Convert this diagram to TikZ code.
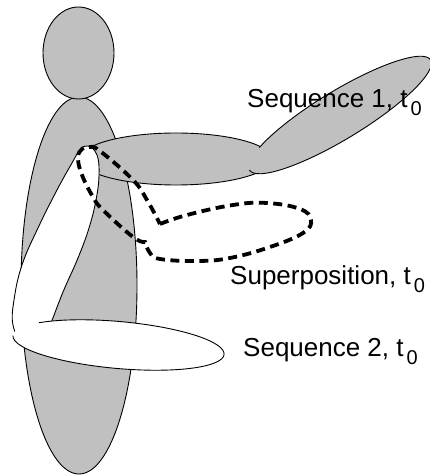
\documentclass[tikz,border=0pt]{standalone}
\usepackage{fontspec}
\setmainfont{Liberation Sans}
\definecolor{limb}{RGB}{192,192,192}
\begin{document}
\begin{tikzpicture}[x=1pt,y=1pt,
  outline/.style={draw=black, line width=0.9pt},
  graypart/.style={fill=limb},
  whitepart/.style={fill=white},
  loopline/.style={draw=black, line width=3.8pt, dash pattern=on 9pt off 5.5pt},
  seqtext/.style={font=\fontsize{26}{30}\selectfont, anchor=base west, inner sep=0pt}]
\useasboundingbox (0,0) rectangle (429,476);

% body and head
\filldraw[graypart, outline] (79,190.5) ellipse[x radius=58, y radius=188.5];
\filldraw[graypart, outline] (78.5,423) ellipse[x radius=35.5, y radius=46];

% upper arm of the first sequence
\filldraw[graypart, outline] (176,317) ellipse[x radius=96, y radius=26];

% forearm of the first sequence
\begin{scope}[shift={(340,361)}, rotate=31.3]
  \fill[limb] (0,0) ellipse[x radius=106, y radius=24];
  \draw[outline] (-106,0) arc[start angle=180, end angle=504, x radius=106, y radius=24];
\end{scope}

% upper arm of the second sequence
\filldraw[whitepart, outline] plot[smooth cycle, tension=0.7] coordinates {
  (88,330) (97,321) (99,301) (96,276) (89,248) (78,218) (63,184) (48,146)
  (40,134) (22,136) (13,151) (14,176) (22,211) (38,248) (57,286) (72,313) (80,326)};

% forearm of the second sequence
\begin{scope}[shift={(118.5,131)}, rotate=-5.1]
  \fill[white] (0,0) ellipse[x radius=106, y radius=23.5];
  \draw[outline] (-81.2,15.1) arc[start angle=140, end angle=-180, x radius=106, y radius=23.5];
\end{scope}

% superposition loop
\coordinate (elbow) at (160,252);
\coordinate (wrist) at (145,234);
\draw[loopline] plot[smooth, tension=0.7] coordinates {
  (elbow) (187,261) (233,271) (267,273) (300,267) (311,256) (303,243) (270,229)
  (230,218) (197,215) (160,217) (150,223) (wrist)}
  -- plot[smooth, tension=0.7] coordinates {
  (wrist) (133,239) (103,266) (93,279) (82,301) (78,318) (82,327) (90,329)
  (100,325) (133,296) (147,276) (elbow)} -- cycle;

% labels
\node[seqtext] (seq1) at (247,368) {Sequence 1, t\kern3pt\raisebox{-8pt}{\fontsize{20}{20}\selectfont 0}};
\node[seqtext] (sup) at (230,191) {Superposition, t\kern3pt\raisebox{-8pt}{\fontsize{20}{20}\selectfont 0}};
\node[seqtext] (seq2) at (243,119) {Sequence 2, t\kern3pt\raisebox{-8pt}{\fontsize{20}{20}\selectfont 0}};
\end{tikzpicture}
\end{document}
